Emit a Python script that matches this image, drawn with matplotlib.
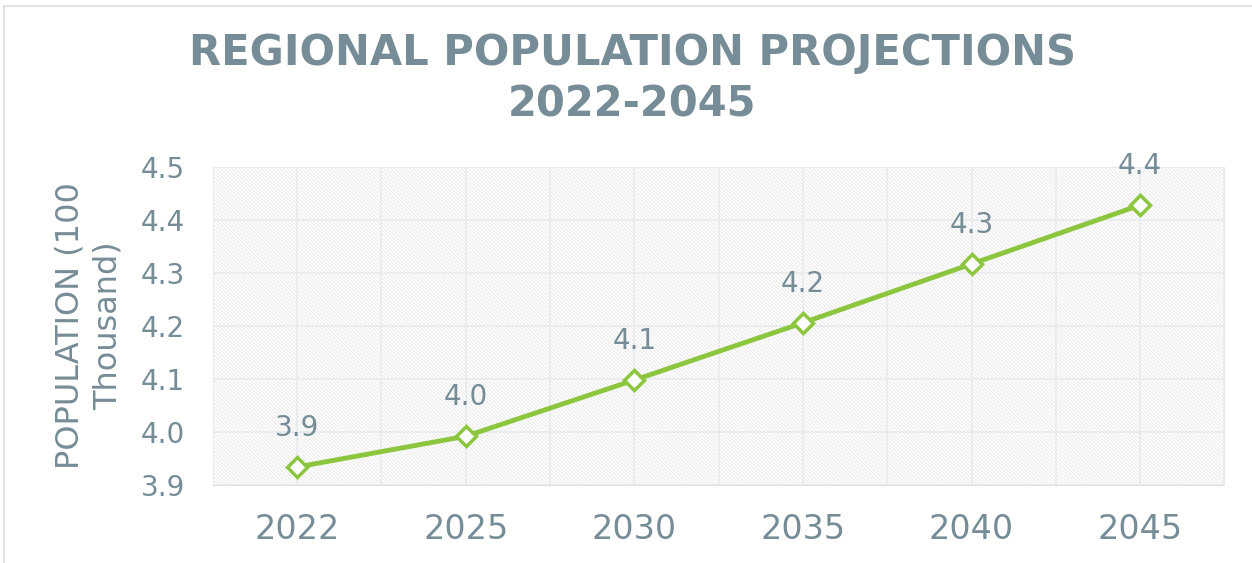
import matplotlib.pyplot as plt
from matplotlib.patches import Rectangle

# data
years = ["2022", "2025", "2030", "2035", "2040", "2045"]
population = [3.934, 3.992, 4.098, 4.206, 4.317, 4.428]
point_labels = ["3.9", "4.0", "4.1", "4.2", "4.3", "4.4"]
y_ticks = [3.9, 4.0, 4.1, 4.2, 4.3, 4.4, 4.5]

text_col = "#768c96"
green = "#8cc63e"
grid_col = "#e8ebee"

plt.rcParams['font.family'] = ['DejaVu Sans']
plt.rcParams['hatch.linewidth'] = 0.5
plt.rcParams['hatch.color'] = "#e2e2e2"

fig = plt.figure(figsize=(12.52, 5.63), dpi=100)
ax = fig.add_axes([0.170, 0.1385, 0.808, 0.565])

# outer frame
fig.patches.append(Rectangle((0.003, -0.01), 1.0, 0.999, transform=fig.transFigure,
                             fill=False, edgecolor="#dfe3e6", linewidth=1.5))

x = list(range(len(years)))
ax.set_xlim(-0.5, len(years) - 0.5)
ax.set_ylim(3.9, 4.5)

# hatched plot area
ax.add_patch(Rectangle((-0.5, 3.9), len(years), 0.6, facecolor="white",
                       edgecolor="#e2e2e2", hatch="\\" * 9, linewidth=0, zorder=0))

for yv in y_ticks:
    ax.axhline(yv, color=grid_col, linewidth=1.2, zorder=1)
for i in range(2 * len(years) + 1):
    ax.axvline(-0.5 + i * 0.5, color=grid_col, linewidth=1.2, zorder=1)

ax.plot(x, population, color=green, linewidth=3.5, marker="D", markersize=10,
        markerfacecolor="white", markeredgecolor=green, markeredgewidth=2.5, zorder=3)

for xi, yi, lab in zip(x, population, point_labels):
    ax.annotate(lab, (xi, yi), xytext=(0, 28), textcoords="offset points",
                ha="center", va="center", fontsize=20, color=text_col, zorder=4)

ax.set_xticks(x)
ax.set_xticklabels(years)
ax.set_yticks(y_ticks)
ax.set_yticklabels([f"{v:.1f}" for v in y_ticks])
ax.tick_params(axis="both", length=0, colors=text_col)
ax.tick_params(axis="x", labelsize=24, pad=20)
ax.tick_params(axis="y", labelsize=20, pad=20)

for s in ax.spines.values():
    s.set_color(grid_col)
ax.spines["bottom"].set_color("#dde2e5")

ax.set_ylabel("POPULATION (100\nThousand)", fontsize=23, color=text_col, labelpad=12,
              linespacing=1.3)

fig.text(0.505, 0.906, "REGIONAL POPULATION PROJECTIONS", ha="center", va="center",
         fontsize=30, fontweight="bold", color=text_col)
fig.text(0.505, 0.8135, "2022-2045", ha="center", va="center",
         fontsize=30, fontweight="bold", color=text_col)

fig.savefig("out.png", dpi=100)
